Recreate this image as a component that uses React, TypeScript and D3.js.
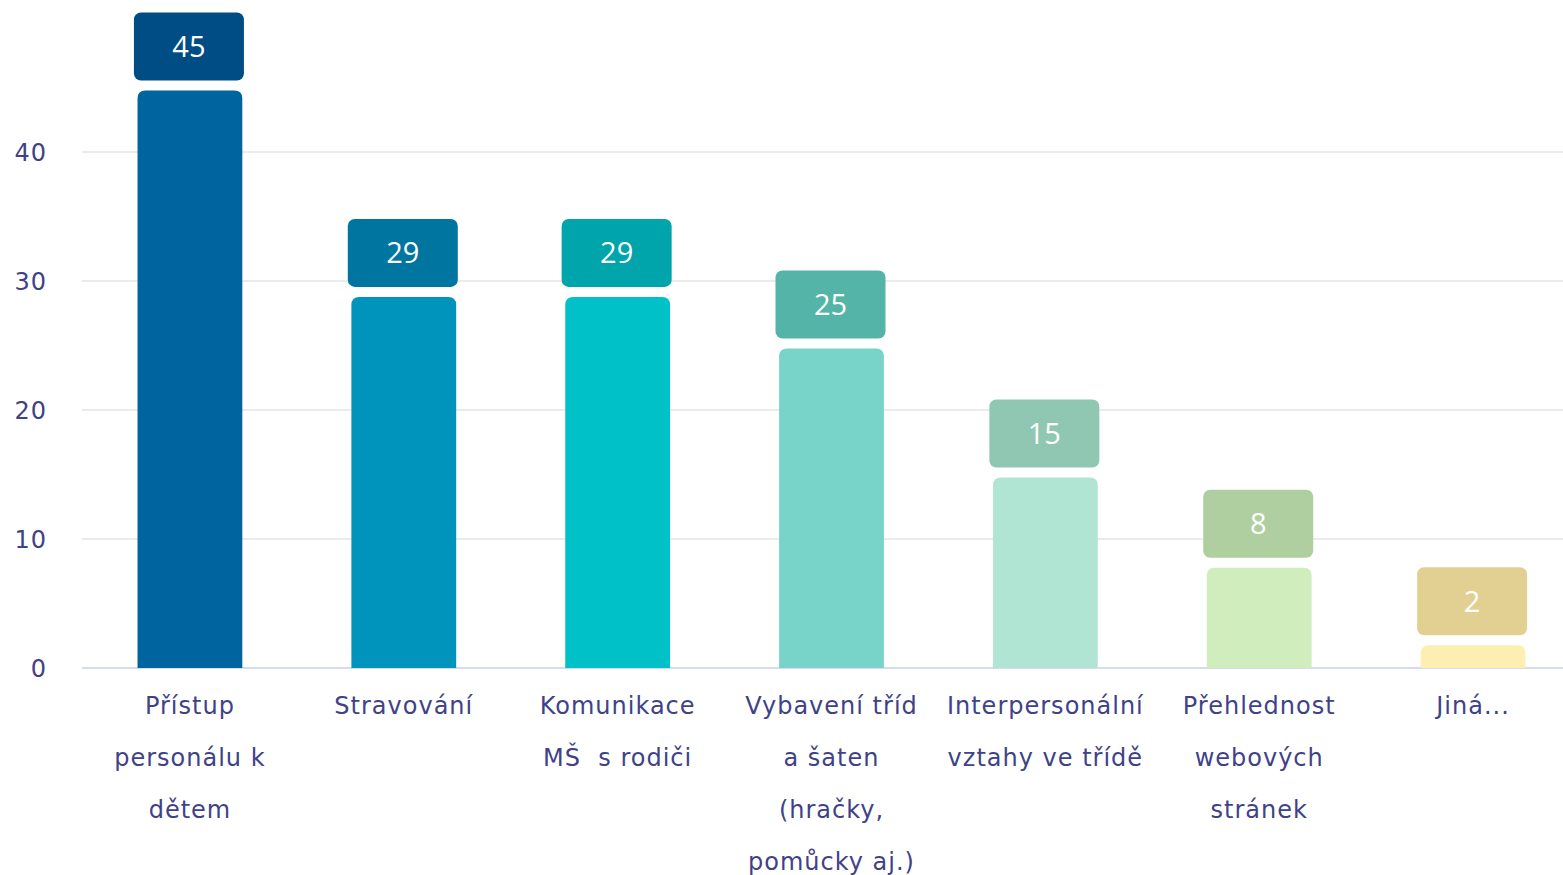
import { useEffect, useRef } from "react";
import * as d3 from "d3";

const categories = [
  "Přístup personálu k dětem",
  "Stravování",
  "Komunikace MŠ s rodiči",
  "Vybavení tříd a šaten (hračky, pomůcky aj.)",
  "Interpersonální vztahy ve třídě",
  "Přehlednost webových stránek",
  "Jiná...",
];
const labelLines = [
  ["Přístup", "personálu k", "dětem"],
  ["Stravování"],
  ["Komunikace", "MŠ  s rodiči"],
  ["Vybavení tříd", "a šaten", "(hračky,", "pomůcky aj.)"],
  ["Interpersonální", "vztahy ve třídě"],
  ["Přehlednost", "webových", "stránek"],
  ["Jiná..."],
];
const values = [45, 29, 29, 25, 15, 8, 2];
const yTicks = [0, 10, 20, 30, 40];
const barColors = ["#00659f", "#0093bb", "#00c1c7", "#78d4c8", "#b0e5d3", "#d0edbe", "#fdeeb1"];
const boxColors = ["#004c84", "#00759f", "#00a4ab", "#55b4a8", "#90c7b3", "#b0cfa0", "#e2d093"];

const W = 1563;
const H = 875;
const TEXT = "#404288";
const LABEL_FONT = "'DejaVu Sans', sans-serif";
const VALUE_FONT = "'Open Sans', sans-serif";

function topRounded(x: number, y: number, w: number, h: number, r: number) {
  const rr = Math.min(r, h, w / 2);
  return `M${x},${y + h}V${y + rr}Q${x},${y} ${x + rr},${y}H${x + w - rr}Q${x + w},${y} ${x + w},${y + rr}V${y + h}Z`;
}

export default function App() {
  const svgRef = useRef<SVGSVGElement>(null);

  useEffect(() => {
    if (!svgRef.current) return;
    const svg = d3.select(svgRef.current);
    svg.selectAll("*").remove();

    const x = d3.scaleBand<string>().domain(categories).range([83, 1580]).paddingInner(0.51).paddingOuter(0.255);
    const y = d3.scaleLinear().domain([0, 40]).range([668, 152]);

    // grid + y ticks
    const grid = svg.append("g");
    yTicks.forEach((t) => {
      grid.append("line")
        .attr("x1", 82).attr("x2", W)
        .attr("y1", y(t)).attr("y2", y(t))
        .attr("stroke", t === 0 ? "#d5dcef" : "#ebebeb")
        .attr("stroke-width", 2);
      grid.append("text")
        .attr("x", 47).attr("y", y(t))
        .attr("dy", "0.36em")
        .attr("text-anchor", "end")
        .attr("fill", TEXT)
        .attr("font-size", 24)
        .attr("letter-spacing", 1)
        .attr("font-family", LABEL_FONT)
        .text(t);
    });

    // bars, value boxes, category labels
    const bw = x.bandwidth();
    categories.forEach((c, i) => {
      const bx = x(c)!;
      const top = y(values[i]) + 3;
      svg.append("path")
        .attr("d", topRounded(bx, top, bw, y(0) - top, 8))
        .attr("fill", barColors[i]);

      const boxW = 110;
      const boxH = 68;
      const cx = bx + bw / 2 - 1;
      const boxY = top - 10 - boxH;
      svg.append("rect")
        .attr("x", cx - boxW / 2).attr("y", boxY)
        .attr("width", boxW).attr("height", boxH)
        .attr("rx", 7)
        .attr("fill", boxColors[i]);
      svg.append("text")
        .attr("x", cx).attr("y", boxY + boxH / 2)
        .attr("dy", "0.36em")
        .attr("text-anchor", "middle")
        .attr("fill", "#ffffff")
        .attr("font-size", 29)
        .attr("font-family", VALUE_FONT)
        .text(values[i]);

      const lbl = svg.append("text")
        .attr("text-anchor", "middle")
        .attr("fill", TEXT)
        .attr("font-size", 24)
        .attr("letter-spacing", 1)
        .attr("font-family", LABEL_FONT)
        .style("white-space", "pre");
      labelLines[i].forEach((line, j) => {
        lbl.append("tspan")
          .attr("x", bx + bw / 2)
          .attr("y", 714 + j * 52)
          .text(line);
      });
    });
  }, []);

  return (
    <div style={{ position: "absolute", left: 0, top: 0 }}>
      <svg ref={svgRef} width={W} height={H} style={{ display: "block" }} />
    </div>
  );
}
